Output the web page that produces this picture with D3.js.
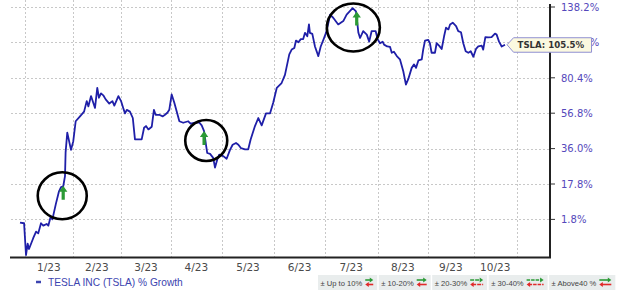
<!DOCTYPE html>
<html><head><meta charset="utf-8">
<script src="https://cdn.jsdelivr.net/npm/d3@7"></script>
<style>body{margin:0;background:#fff}svg{display:block}</style>
</head><body><svg id="c" width="620" height="293"></svg>
<script>
// x positions in trading-session units (0 = first plotted session)
const sessions = [0,1.7,2.5,3.2,3.75,5.5,6.7,7.6,8.75,9.7,
11.1,11.8,12.8,13.5,14.9,16.25,17.1,18,18.75,19,
19.7,21.25,22.2,23.2,25,26.7,27.8,28.5,29.6,31.25,
32.2,32.9,33.75,34.7,35.7,37.2,38.5,39.3,41,42.1,
43,43.75,44.5,45.8,47,47.9,50.7,51.7,52.5,53.5,
54.9,55.8,56.5,58,59.5,60.4,61.4,62.2,63.2,64.3,
65.3,66.4,68,70.1,71.1,72.9,74.6,75.7,76.7,77.5,
78,79.2,80.5,81.25,82.2,83,84.7,86.1,87.5,88.6,
90,91,92.1,93.75,95.1,96.1,97.9,99.3,100.7,102.5,
104.2,105.5,107,109,110.4,112.2,113.2,114.3,115,116,
117,118,118.75,119.7,120.4,120.8,121.8,122.9,124.3,125.3,
126.4,127.5,128.5,129.2,130.5,132.6,134.7,136.1,138.6,140,
141,141.7,143,144.5,145.5,146.5,148.2,149,150,151.1,
151.7,153,154.2,154.9,155.8,157,158.3,159.7,160.8,161.8,
163.2,164.2,165,166,167.4,168,168.75,170.1,170.8,171.5,
172.9,173.6,174.7,175.7,176.7,177.5,178.5,179.2,180.3,181.7,
182.6,183.75,184.7,185.7,186.8,187.8,188.9,190,190.95,192.4,
193,193.9,195.1,196.5,197.9,198.6,199.6,200.7,202.1];
// % growth of TSLA
const growth = [0.5,0.2,-12.1,-7.9,-9.9,-5.8,-3.2,-3.9,0.2,-0.8,
-0.1,-0.8,3.0,1.8,8.3,14.3,16.3,16.6,21.6,33.9,
45.0,35.3,40.1,51.8,54.8,57.8,64.5,61.1,67.8,60.1,
73.4,66.7,69.6,68.3,65.6,62.9,64.5,61.6,67.8,64.5,
60.1,56.7,58.9,57.8,53.8,41.1,41.1,47.9,48.9,46.9,
48.5,58.9,55.8,55.8,54.8,55.8,57.1,58.9,68.9,63.4,
57.8,51.8,50.9,51.8,50.3,50.9,51.2,49.3,45.9,38.1,
33.6,33.1,31.0,25.9,30.1,32.7,31.9,30.5,35.3,38.1,
39.1,38.1,36.2,35.6,35.6,41.1,48.9,53.8,49.3,56.7,
56.7,63.4,73.4,76.7,82.5,97.8,101.6,102.9,108.9,107.5,
110.1,110.1,115.3,112.4,122.5,115.3,114.4,104.1,96.5,104.1,
109.5,115.3,124.0,131.2,128.4,122.5,125.4,131.2,137.1,134.1,
115.3,111.0,116.7,113.8,108.0,116.7,116.7,110.1,106.7,108.0,
105.6,104.1,103.7,99.1,99.9,96.5,94.0,85.1,75.6,79.6,
87.6,90.2,87.6,93.2,94.0,101.6,108.9,109.5,106.7,99.1,
99.1,106.7,104.6,102.1,112.4,119.7,118.2,122.5,124.0,121.1,
116.7,115.8,106.7,100.3,99.1,100.3,96.0,102.1,104.1,104.7,
101.6,111.8,111.5,111.8,114.7,113.8,108.0,104.1,105.5];
const monthStarts = [2,22,42,63,84,106,127,149,170,189,207];
const monthLabels = ["1/23","2/23","3/23","4/23","5/23","6/23","7/23","8/23","9/23","10/23"];
const yTicks = [1.8,17.8,36.0,56.8,80.4,107.4,138.2];
const seriesName = "TESLA INC (TSLA) % Growth";
const ticker = "TSLA";
const lastValue = 105.5;
const bandLabels = ["\u00B1 Up to 10%","\u00B1 10-20%","\u00B1 20-30%","\u00B1 30-40%","\u00B1 Above40 %"];
const circleSessions = [17.6, 77.6, 138.9];
const circleGrowth = [12.2, 40.5, 119.9];
const arrowSessions = [18, 76.7, 140.3];
const arrowGrowth = [16.9, 45.9, 134.1];

const svg = d3.select("#c");
const plotL = 11, plotR = 550, plotB = 257.5, plotT = 0;
const x = d3.scaleLinear().domain([0, 207]).range([20, 516.8]);
const tickY0 = 219.4, tickStep = 35.4;
const y = d3.scaleLog()
  .domain(yTicks.map(t => 1 + t/100))
  .range(yTicks.map((t,i) => tickY0 - i*tickStep));
const Y = g => y(1 + g/100);

// grid
const grid = svg.append("g").attr("stroke","#c8c8c8").attr("stroke-dasharray","2,2").attr("stroke-width",1);
grid.selectAll("line.h").data(yTicks).join("line")
  .attr("x1",plotL).attr("x2",plotR).attr("y1",d=>Math.round(Y(d))+0.5).attr("y2",d=>Math.round(Y(d))+0.5);
grid.selectAll("line.v").data(monthStarts).join("line")
  .attr("x1",d=>Math.round(x(d))+0.5).attr("x2",d=>Math.round(x(d))+0.5).attr("y1",plotT).attr("y2",plotB);

// month labels
svg.append("g").selectAll("text").data(monthLabels).join("text")
  .attr("x",(d,i)=>(x(monthStarts[i])+x(monthStarts[i+1]))/2)
  .attr("y",271).attr("text-anchor","middle")
  .attr("font-family","DejaVu Sans").attr("font-size","10.5px").attr("fill","#4a4a4a")
  .text(d=>d);

// right axis labels
const ra = svg.append("g");
ra.selectAll("line").data(yTicks).join("line")
  .attr("x1",plotR).attr("x2",plotR+5).attr("y1",d=>Y(d)).attr("y2",d=>Y(d))
  .attr("stroke","#333").attr("stroke-width",1);
ra.selectAll("text").data(yTicks).join("text")
  .attr("x",561).attr("y",d=>Y(d)+3.7)
  .attr("font-family","DejaVu Sans").attr("font-size","10px").attr("fill","#5448bb")
  .text(d=>d.toFixed(1)+"%");

// axes lines
svg.append("line").attr("x1",plotL-1).attr("x2",plotR+1).attr("y1",plotB).attr("y2",plotB)
  .attr("stroke","#222").attr("stroke-width",2);
svg.append("line").attr("x1",plotR).attr("x2",plotR).attr("y1",4).attr("y2",plotB)
  .attr("stroke","#222").attr("stroke-width",2);

// series line
const pts = sessions.map((s,i)=>[s, growth[i]]);
svg.append("path").datum(pts)
  .attr("d", d3.line().x(d=>x(d[0])).y(d=>Y(d[1])))
  .attr("fill","none").attr("stroke","#1f1fa8").attr("stroke-width",1.8)
  .attr("stroke-linejoin","round");

// annotation circles
const radii = [[24.5,23.5],[21,20.5],[26.5,24]];
svg.append("g").selectAll("ellipse").data(circleSessions).join("ellipse")
  .attr("cx",(d,i)=>x(d)).attr("cy",(d,i)=>Y(circleGrowth[i]))
  .attr("rx",(d,i)=>radii[i][0]).attr("ry",(d,i)=>radii[i][1])
  .attr("fill","none").attr("stroke","#000").attr("stroke-width",2.6);

// green up arrows
svg.append("g").selectAll("path").data(arrowSessions).join("path")
  .attr("transform",(d,i)=>`translate(${x(d)},${Y(arrowGrowth[i])})`)
  .attr("d","M0,0 L4.2,6 L1.6,6 L1.6,14 L-1.6,14 L-1.6,6 L-4.2,6 Z")
  .attr("fill","#2b9a35");

// callout
const lx = x(sessions[sessions.length-1]) + 2, ly = Y(lastValue);
const co = svg.append("g");
co.append("path")
  .attr("d",`M${lx},${ly} L${lx+6.5},${ly-7} L${lx+84.5},${ly-7} L${lx+84.5},${ly+7.5} L${lx+6.5},${ly+7.5} Z`)
  .attr("fill","#fbf9e0").attr("stroke","#8f8fd2").attr("stroke-width",1);
co.append("text").attr("x",lx+10.5).attr("y",ly+3.6)
  .attr("font-family","DejaVu Sans").attr("font-weight","bold").attr("font-size","8.6px").attr("fill","#333")
  .text(`${ticker}: ${lastValue.toFixed(1)}%`);

// series legend
svg.append("line").attr("x1",36).attr("x2",41).attr("y1",282).attr("y2",282)
  .attr("stroke","#3c44b0").attr("stroke-width",2.5);
svg.append("text").attr("x",48).attr("y",285.8)
  .attr("font-family","Liberation Sans").attr("font-size","10.2px").attr("fill","#3c44b0")
  .text(seriesName);

// band legend
const arrowLens = [8,10,13,17,12];
const dashes = [null,null,"4,1","3.5,1",null];
const bl = svg.append("g");
let bx = 318;
const by = 275, bh = 15;
bandLabels.forEach((lab,i)=>{
  const g = bl.append("g");
  const rect = g.append("rect").attr("y",by).attr("height",bh).attr("fill","#e9eded");
  const t = g.append("text").attr("x",bx+2.5).attr("y",by+10.5)
    .attr("font-family","Liberation Sans").attr("font-size","7.6px").attr("fill","#444").text(lab);
  const tw = t.node().getComputedTextLength();
  const ax = bx + 2.5 + tw + 3, L = arrowLens[i];
  const gy = by + 5, ry = by + 9.5;
  g.append("line").attr("x1",ax).attr("x2",ax+L-2).attr("y1",gy).attr("y2",gy)
    .attr("stroke","#2b9a35").attr("stroke-width",1.6).attr("stroke-dasharray",dashes[i]);
  g.append("path").attr("d",`M${ax+L},${gy} L${ax+L-3.5},${gy-2.5} L${ax+L-3.5},${gy+2.5} Z`).attr("fill","#2b9a35");
  g.append("line").attr("x1",ax+2).attr("x2",ax+L).attr("y1",ry).attr("y2",ry)
    .attr("stroke","#e02a2a").attr("stroke-width",1.6).attr("stroke-dasharray",dashes[i]);
  g.append("path").attr("d",`M${ax},${ry} L${ax+3.5},${ry-2.5} L${ax+3.5},${ry+2.5} Z`).attr("fill","#e02a2a");
  const w = tw + L + 9.5;
  rect.attr("x",bx).attr("width",w);
  bx += w + 1.5;
});
</script></body></html>
